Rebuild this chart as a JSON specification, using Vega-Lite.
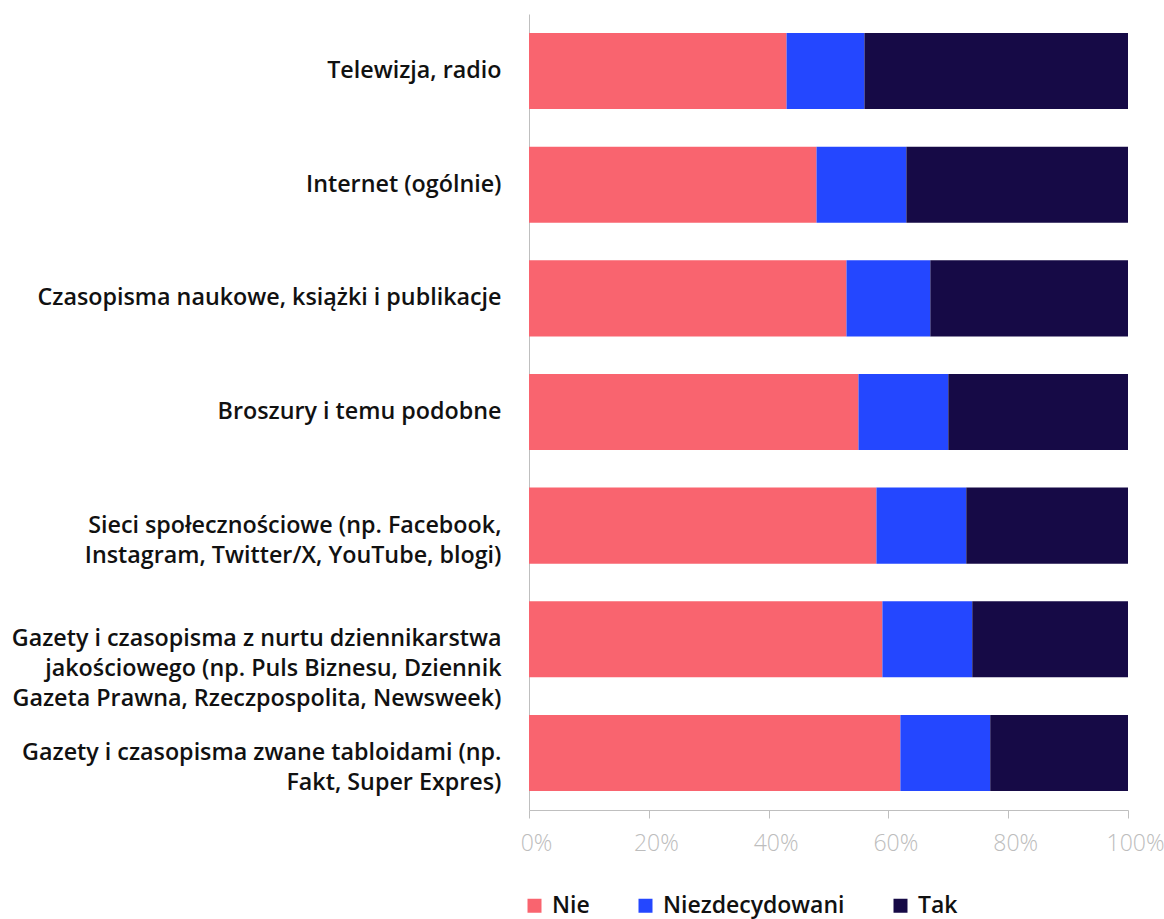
{
  "$schema": "https://vega.github.io/schema/vega-lite/v6.json",
  "width": 599,
  "height": 796,
  "autosize": {"type": "none"},
  "padding": {"left": 529, "top": 14, "right": 36, "bottom": 109},
  "background": "white",
  "config": {
    "view": {"stroke": null},
    "font": "Open Sans"
  },
  "data": {
    "values": [
      {"kat": "Telewizja, radio", "odp": "Nie", "v": 43, "o": 1},
      {"kat": "Telewizja, radio", "odp": "Niezdecydowani", "v": 13, "o": 2},
      {"kat": "Telewizja, radio", "odp": "Tak", "v": 44, "o": 3},
      {"kat": "Internet (ogólnie)", "odp": "Nie", "v": 48, "o": 1},
      {"kat": "Internet (ogólnie)", "odp": "Niezdecydowani", "v": 15, "o": 2},
      {"kat": "Internet (ogólnie)", "odp": "Tak", "v": 37, "o": 3},
      {"kat": "Czasopisma naukowe, książki i publikacje", "odp": "Nie", "v": 53, "o": 1},
      {"kat": "Czasopisma naukowe, książki i publikacje", "odp": "Niezdecydowani", "v": 14, "o": 2},
      {"kat": "Czasopisma naukowe, książki i publikacje", "odp": "Tak", "v": 33, "o": 3},
      {"kat": "Broszury i temu podobne", "odp": "Nie", "v": 55, "o": 1},
      {"kat": "Broszury i temu podobne", "odp": "Niezdecydowani", "v": 15, "o": 2},
      {"kat": "Broszury i temu podobne", "odp": "Tak", "v": 30, "o": 3},
      {"kat": "Sieci społecznościowe (np. Facebook, Instagram, Twitter/X, YouTube, blogi)", "odp": "Nie", "v": 58, "o": 1},
      {"kat": "Sieci społecznościowe (np. Facebook, Instagram, Twitter/X, YouTube, blogi)", "odp": "Niezdecydowani", "v": 15, "o": 2},
      {"kat": "Sieci społecznościowe (np. Facebook, Instagram, Twitter/X, YouTube, blogi)", "odp": "Tak", "v": 27, "o": 3},
      {"kat": "Gazety i czasopisma z nurtu dziennikarstwa jakościowego (np. Puls Biznesu, Dziennik Gazeta Prawna, Rzeczpospolita, Newsweek)", "odp": "Nie", "v": 59, "o": 1},
      {"kat": "Gazety i czasopisma z nurtu dziennikarstwa jakościowego (np. Puls Biznesu, Dziennik Gazeta Prawna, Rzeczpospolita, Newsweek)", "odp": "Niezdecydowani", "v": 15, "o": 2},
      {"kat": "Gazety i czasopisma z nurtu dziennikarstwa jakościowego (np. Puls Biznesu, Dziennik Gazeta Prawna, Rzeczpospolita, Newsweek)", "odp": "Tak", "v": 26, "o": 3},
      {"kat": "Gazety i czasopisma zwane tabloidami (np. Fakt, Super Expres)", "odp": "Nie", "v": 62, "o": 1},
      {"kat": "Gazety i czasopisma zwane tabloidami (np. Fakt, Super Expres)", "odp": "Niezdecydowani", "v": 15, "o": 2},
      {"kat": "Gazety i czasopisma zwane tabloidami (np. Fakt, Super Expres)", "odp": "Tak", "v": 23, "o": 3}
    ]
  },
  "mark": {"type": "bar"},
  "encoding": {
    "y": {
      "field": "kat",
      "type": "nominal",
      "sort": null,
      "scale": {"paddingInner": 0.33, "paddingOuter": 0.167},
      "axis": {
        "title": null,
        "ticks": false,
        "domainColor": "#BFBFBF",
        "domainWidth": 1,
        "labelFont": "Open Sans",
        "labelFontSize": 23.3,
        "labelFontWeight": 600,
        "labelColor": "#111111",
        "labelPadding": 28,
        "labelLimit": 600,
        "labelLineHeight": 30,
        "labelExpr": "datum.label == 'Sieci społecznościowe (np. Facebook, Instagram, Twitter/X, YouTube, blogi)' ? ['Sieci społecznościowe (np. Facebook,', 'Instagram, Twitter/X, YouTube, blogi)'] : datum.label == 'Gazety i czasopisma z nurtu dziennikarstwa jakościowego (np. Puls Biznesu, Dziennik Gazeta Prawna, Rzeczpospolita, Newsweek)' ? ['Gazety i czasopisma z nurtu dziennikarstwa', 'jakościowego (np. Puls Biznesu, Dziennik', 'Gazeta Prawna, Rzeczpospolita, Newsweek)'] : datum.label == 'Gazety i czasopisma zwane tabloidami (np. Fakt, Super Expres)' ? ['Gazety i czasopisma zwane tabloidami (np.', 'Fakt, Super Expres)'] : datum.label"
      }
    },
    "x": {
      "field": "v",
      "type": "quantitative",
      "stack": "normalize",
      "scale": {"domain": [0, 1], "nice": false},
      "axis": {
        "title": null,
        "format": ".0%",
        "values": [0, 0.2, 0.4, 0.6, 0.8, 1],
        "grid": false,
        "domainColor": "#BFBFBF",
        "tickColor": "#BFBFBF",
        "tickSize": 8,
        "labelFont": "Open Sans",
        "labelFontSize": 23,
        "labelFontWeight": 300,
        "labelColor": "#BDBDBD",
        "labelPadding": 14,
        "labelFlush": false,
        "labelOverlap": false,
        "labelBound": false,
        "labelOffset": 7
      }
    },
    "color": {
      "field": "odp",
      "type": "nominal",
      "scale": {
        "domain": ["Nie", "Niezdecydowani", "Tak"],
        "range": ["#F9646F", "#2447FF", "#160A46"]
      },
      "legend": {
        "title": null,
        "orient": "none",
        "legendX": -6,
        "legendY": 880,
        "direction": "horizontal",
        "padding": 0,
        "symbolType": "square",
        "symbolSize": 196,
        "symbolStrokeWidth": 0,
        "labelFont": "Open Sans",
        "labelFontSize": 23,
        "labelFontWeight": 600,
        "labelColor": "#111111",
        "labelLimit": 400,
        "labelOffset": 6,
        "columnPadding": 44
      }
    },
    "order": {"field": "o", "type": "quantitative"}
  }
}
